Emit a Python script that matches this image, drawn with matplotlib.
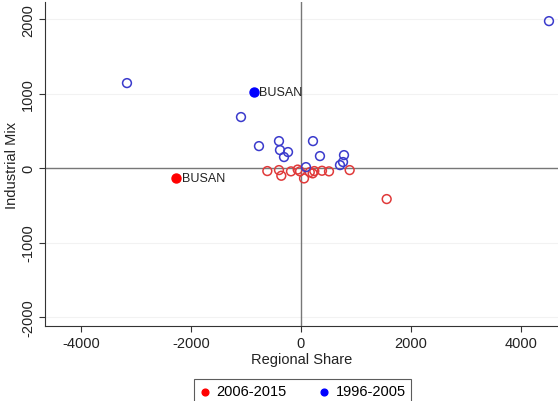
import matplotlib.pyplot as plt

plt.rcParams['font.family'] = ['Liberation Sans', 'DejaVu Sans']
plt.rcParams['axes.unicode_minus'] = False

# regional share / industrial mix, one point per region
rs_9605 = [-3164, 4509, -1091, -764, -400, -382, -236, -309, 218, 345, 782, 764, 709, 91]
im_9605 = [1141, 1973, 685, 295, 362, 242, 215, 148, 362, 161, 174, 81, 40, 13]
rs_0615 = [-612, -400, -358, -182, -18, 55, 212, 242, 382, 509, 885, 1558, 160, -60]
im_0615 = [-40, -27, -103, -44, -44, -139, -71, -40, -36, -44, -27, -416, -55, -20]

# Busan highlighted in each period
busan_9605 = (-860, 1016)
busan_0615 = (-2273, -138)

xticks = [-4000, -2000, 0, 2000, 4000]
yticks = [-2000, -1000, 0, 1000, 2000]

fig = plt.figure(figsize=(5.58, 4.02), dpi=100)
ax = fig.add_axes([0.0806, 0.1866, 0.9194, 0.806])

ax.axhline(0, color='#777777', linewidth=1, zorder=1)
ax.axvline(0, color='#777777', linewidth=1, zorder=1)

ax.scatter(rs_0615, im_0615, s=40, facecolors='none', edgecolors='#e03a3a', linewidths=1.1, zorder=3)
ax.scatter(rs_9605, im_9605, s=40, facecolors='none', edgecolors='#3a3acc', linewidths=1.1, zorder=3)

ax.scatter(*busan_0615, s=42, color='#ff0000', zorder=4, label='2006-2015')
ax.scatter(*busan_9605, s=42, color='#0000ff', zorder=4, label='1996-2005')
ax.annotate('BUSAN', busan_0615, xytext=(4, 0), textcoords='offset points',
            va='center', fontsize=9, color='#222222')
ax.annotate('BUSAN', busan_9605, xytext=(4, 0), textcoords='offset points',
            va='center', fontsize=9, color='#222222')

ax.set_xlim(-4655, 4673)
ax.set_ylim(-2120, 2230)
ax.set_xticks(xticks)
ax.set_yticks(yticks)
ax.set_yticklabels([str(t) for t in yticks], rotation=90, va='center')
ax.tick_params(labelsize=10.5, length=4, color='#333333', labelcolor='#222222')
ax.tick_params(axis='y', pad=3)
for t in yticks:
    ax.axhline(t, color='#f2f2f2', linewidth=0.8, zorder=0)

for side in ['top', 'right']:
    ax.spines[side].set_visible(False)
for side in ['left', 'bottom']:
    ax.spines[side].set_color('#333333')

ax.set_xlabel('Regional Share', fontsize=10.5, color='#222222', labelpad=1)
ax.set_ylabel('Industrial Mix', fontsize=10.5, color='#222222')
ax.yaxis.set_label_coords(-0.05, 0.5)

leg = fig.legend(loc='upper center', bbox_to_anchor=(0.542, 0.072), ncol=2,
                 fontsize=10.5, fancybox=False, edgecolor='#333333',
                 handlelength=0.8, handletextpad=0.4, columnspacing=2.2,
                 borderpad=0.35, scatterpoints=1, markerscale=0.75)
leg.get_frame().set_linewidth(0.8)

fig.savefig('out.png', dpi=100)
